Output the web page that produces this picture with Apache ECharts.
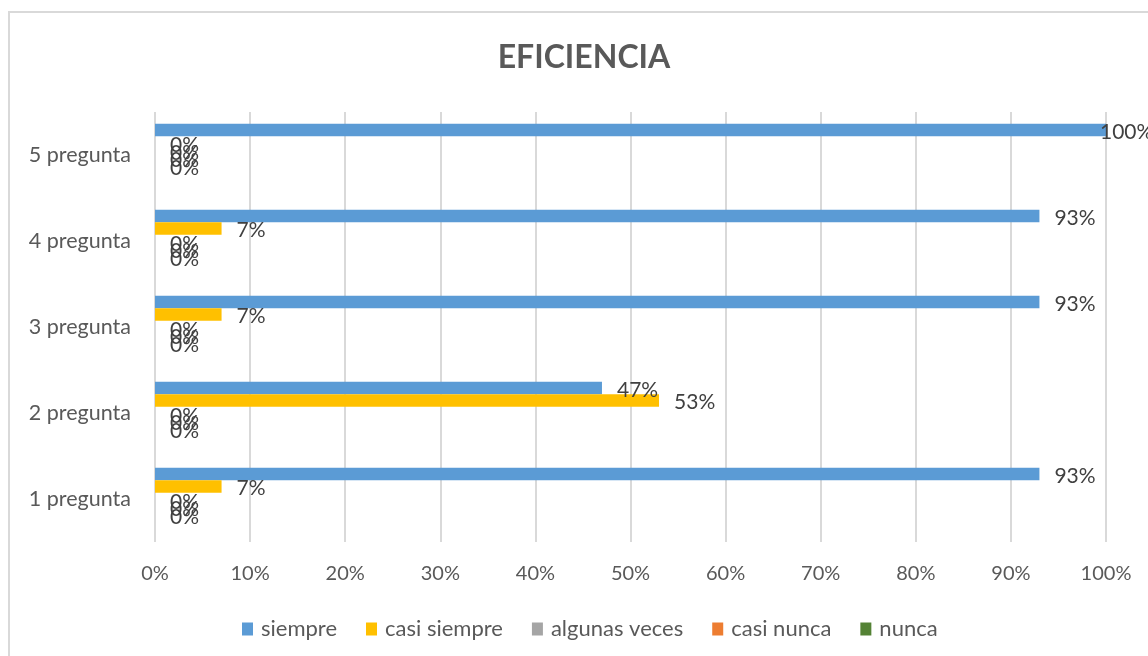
<!DOCTYPE html>
<html>
<head>
<meta charset="utf-8">
<script src="https://cdn.jsdelivr.net/npm/echarts@6/dist/echarts.min.js"></script>
<style>
  html,body{margin:0;padding:0;background:#fff;}
  #main{width:1148px;height:656px;}
</style>
</head>
<body>
<div id="main"></div>
<script>
var categorias=["1 pregunta","2 pregunta","3 pregunta","4 pregunta","5 pregunta"];
var siempre=[93,47,93,93,100];
var casiSiempre=[7,53,7,7,0];
var algunasVeces=[0,0,0,0,0];
var casiNunca=[0,0,0,0,0];
var nunca=[0,0,0,0,0];
var ticksX=[0,10,20,30,40,50,60,70,80,90,100];

var colores=["#5b9bd5","#ffc000","#a5a5a5","#ed7d31","#548235"];
var nombres=["siempre","casi siempre","algunas veces","casi nunca","nunca"];
var datos=[siempre,casiSiempre,algunasVeces,casiNunca,nunca];

var fuente="Lato";
var series=[];
// las etiquetas de 0% se amontonan como en excel
for(var i=0;i<datos.length;i++){
  var items=[];
  for(var c=0;c<categorias.length;c++){
    var v=datos[i][c];
    var it={value:v};
    if(v===0){
      var j=0;
      for(var k=0;k<i;k++){ if(datos[k][c]===0) j++; }
      it.label={offset:[0,3-j*5]};
    }else if(v===100){
      it.label={distance:-6};
    }
    items.push(it);
  }
  series.push({
    name:nombres[i],
    type:"bar",
    data:items,
    barWidth:12.5,
    barGap:"0%",
    itemStyle:{color:colores[i]},
    label:{
      show:true,
      position:"right",
      distance:15,
      offset:[0,2],
      formatter:"{c}%",
      color:"#404040",
      fontSize:21,
      fontFamily:fuente
    }
  });
}

var myChart=echarts.init(document.getElementById("main"));
var option={
  backgroundColor:"#fff",
  animation:false,
  title:{
    text:"EFICIENCIA",
    left:579,
    textAlign:"center",
    top:37,
    textStyle:{fontSize:32,fontWeight:"bold",color:"#595959",fontFamily:fuente}
  },
  graphic:[{
    type:"rect",
    shape:{x:9,y:12,width:1300,height:800},
    style:{fill:"none",stroke:"#d9d9d9",lineWidth:2},
    silent:true
  }],
  legend:{
    data:nombres,
    left:237,
    top:613,
    itemWidth:11,
    itemHeight:13,
    itemGap:29,
    icon:"rect",
    textStyle:{fontSize:22,color:"#595959",fontFamily:fuente,padding:[0,0,0,3]}
  },
  grid:{left:155,right:42,top:112,bottom:114,containLabel:false},
  xAxis:{
    type:"value",
    min:0,
    max:100,
    interval:10,
    axisLine:{show:false},
    axisTick:{show:false},
    splitLine:{show:true,lineStyle:{color:"#d9d9d9",width:2}},
    axisLabel:{
      margin:22,
      fontSize:20,
      color:"#595959",
      fontFamily:fuente,
      formatter:function(v){return ticksX.indexOf(v)>=0?v+"%":"";}
    }
  },
  yAxis:{
    type:"category",
    data:categorias,
    axisLine:{show:false},
    axisTick:{show:false},
    splitLine:{show:false},
    axisLabel:{margin:24,fontSize:21.5,color:"#595959",fontFamily:fuente}
  },
  series:series
};
myChart.setOption(option);
</script>
</body>
</html>
